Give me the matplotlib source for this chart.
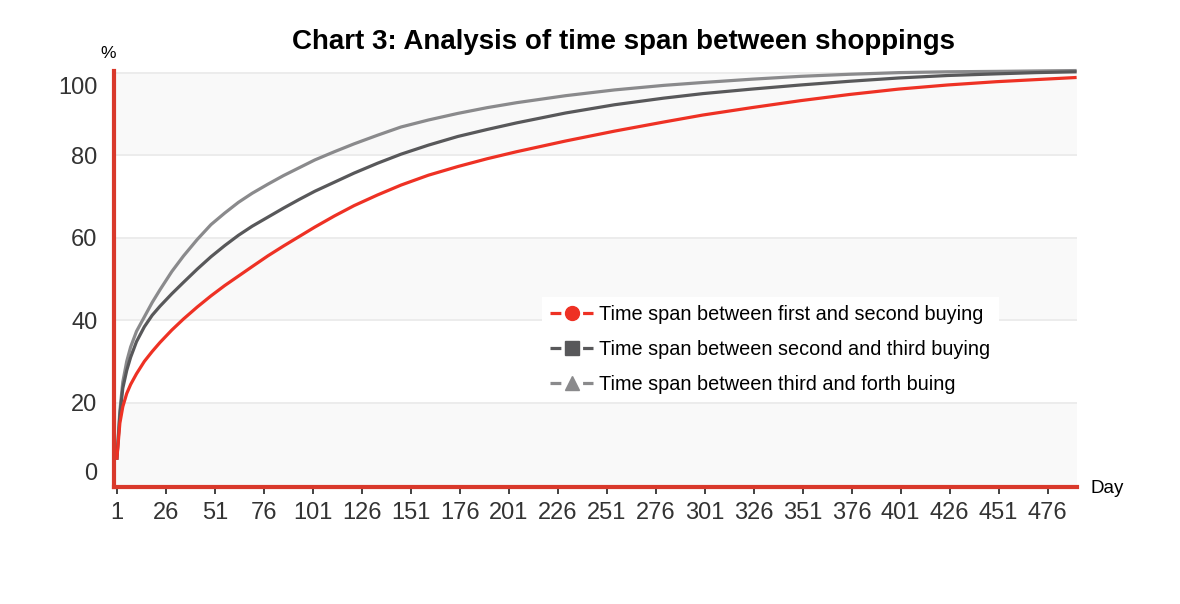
import matplotlib
matplotlib.use('Agg')
import matplotlib.pyplot as plt
import matplotlib.transforms as mtransforms
from matplotlib.lines import Line2D

plt.rcParams['font.family'] = ['Liberation Sans', 'DejaVu Sans']

# 데이터
days = [1, 2.5, 4, 6, 8, 11, 15, 19, 23, 29, 35, 42, 49, 56, 63, 70, 78, 86,
        94, 102, 112, 122, 134, 146, 160, 175, 190, 205, 230, 255, 280, 300,
        325, 350, 375, 400, 425, 450, 470, 490]
first_second = [6.5, 15, 19, 22.2, 24.4, 27, 30, 32.4, 34.6, 37.6, 40.3, 43.2,
                45.9, 48.4, 50.7, 53, 55.6, 58, 60.3, 62.6, 65.3, 67.8, 70.4,
                72.8, 75.2, 77.3, 79.2, 80.9, 83.5, 85.9, 88.1, 89.8, 91.6,
                93.3, 94.8, 96.1, 97.1, 97.9, 98.4, 98.9]
second_third = [6.5, 17, 23.5, 27.8, 31, 34.8, 38.4, 41.2, 43.4, 46.4, 49.2,
                52.4, 55.4, 58.1, 60.6, 62.8, 65, 67.2, 69.3, 71.3, 73.5, 75.7,
                78.1, 80.3, 82.5, 84.6, 86.3, 87.9, 90.3, 92.3, 93.9, 95, 96.1,
                97.1, 98, 98.8, 99.4, 99.8, 100.1, 100.3]
third_forth = [6.5, 18, 25, 30, 33.5, 37.3, 40.8, 44.3, 47.4, 51.8, 55.6, 59.6,
               63.2, 66, 68.6, 70.8, 73, 75.1, 77, 78.9, 80.9, 82.8, 84.9, 86.9,
               88.6, 90.2, 91.6, 92.8, 94.5, 95.9, 97, 97.7, 98.5, 99.2, 99.7,
               100.1, 100.3, 100.4, 100.5, 100.6]
series_names = ['Time span between first and second buying',
                'Time span between second and third buying',
                'Time span between third and forth buing']
xticks = list(range(1, 477, 25))
yticks = [0, 20, 40, 60, 80, 100]

red = '#ee3124'
dark = '#58585a'
light = '#8a8a8c'
axis_red = '#d9392b'

fig = plt.figure(figsize=(11.8, 6.04), dpi=100)
ax = fig.add_axes([0.0966, 0.1937, 0.8161, 0.6888])

# 배경 띠 + 그리드
for lo, hi in [(-0.5, 20), (40, 60), (80, 100)]:
    ax.axhspan(lo, hi, color='#f9f9f9', lw=0, zorder=0)
for y in yticks[1:]:
    ax.axhline(y, color='#ebebeb', lw=1.3, zorder=1)

ax.plot(days, first_second, color=red, lw=2.3, zorder=5, clip_on=False)
ax.plot(days, second_third, color=dark, lw=2.3, zorder=4, clip_on=False)
ax.plot(days, third_forth, color=light, lw=2.3, zorder=3, clip_on=False)

ax.set_xlim(-0.5, 491)
ax.set_ylim(-0.5, 100.5)

for s in ['top', 'right']:
    ax.spines[s].set_visible(False)
for s in ['left', 'bottom']:
    ax.spines[s].set_color(axis_red)
    ax.spines[s].set_linewidth(3)
    ax.spines[s].set_zorder(6)

ax.set_xticks(xticks)
ax.set_xticklabels([str(t) for t in xticks])
ax.set_yticks(yticks)
ax.set_yticklabels([str(t) for t in yticks])
ax.tick_params(axis='x', length=5, width=1.3, color='#333333', pad=6,
               labelsize=17, labelcolor='#333333')
ax.tick_params(axis='y', length=0, pad=12, labelsize=17, labelcolor='#333333')

# 양 끝 y 라벨은 안쪽으로 밀기
labs = ax.get_yticklabels()
labs[0].set_transform(labs[0].get_transform() +
                      mtransforms.ScaledTranslation(0, 13 / 100, fig.dpi_scale_trans))
labs[-1].set_transform(labs[-1].get_transform() +
                       mtransforms.ScaledTranslation(0, -12 / 100, fig.dpi_scale_trans))

fig.text(0.528, 0.931, 'Chart 3: Analysis of time span between shoppings',
         ha='center', va='center', fontsize=20, fontweight='bold')
fig.text(0.0915, 0.912, '%', ha='center', va='center', fontsize=12.5)
fig.text(0.938, 0.192, 'Day', ha='center', va='center', fontsize=13.5)

dash = (0, (3.4, 6.8))
handles = [
    Line2D([], [], color=red, lw=2.3, ls=dash, marker='o', ms=10),
    Line2D([], [], color=dark, lw=2.3, ls=dash, marker='s', ms=10),
    Line2D([], [], color=light, lw=2.3, ls=dash, marker='^', ms=10),
]
leg = ax.legend(handles, series_names, loc='upper left',
                bbox_to_anchor=(0.434, 0.481), frameon=True, fancybox=False,
                edgecolor='none', facecolor='white', framealpha=1,
                fontsize=14.3, numpoints=1, handlelength=2.2,
                handletextpad=0.3, labelspacing=0.8, borderpad=0.4)
leg.set_zorder(7)

plt.savefig('out.png', dpi=100)
